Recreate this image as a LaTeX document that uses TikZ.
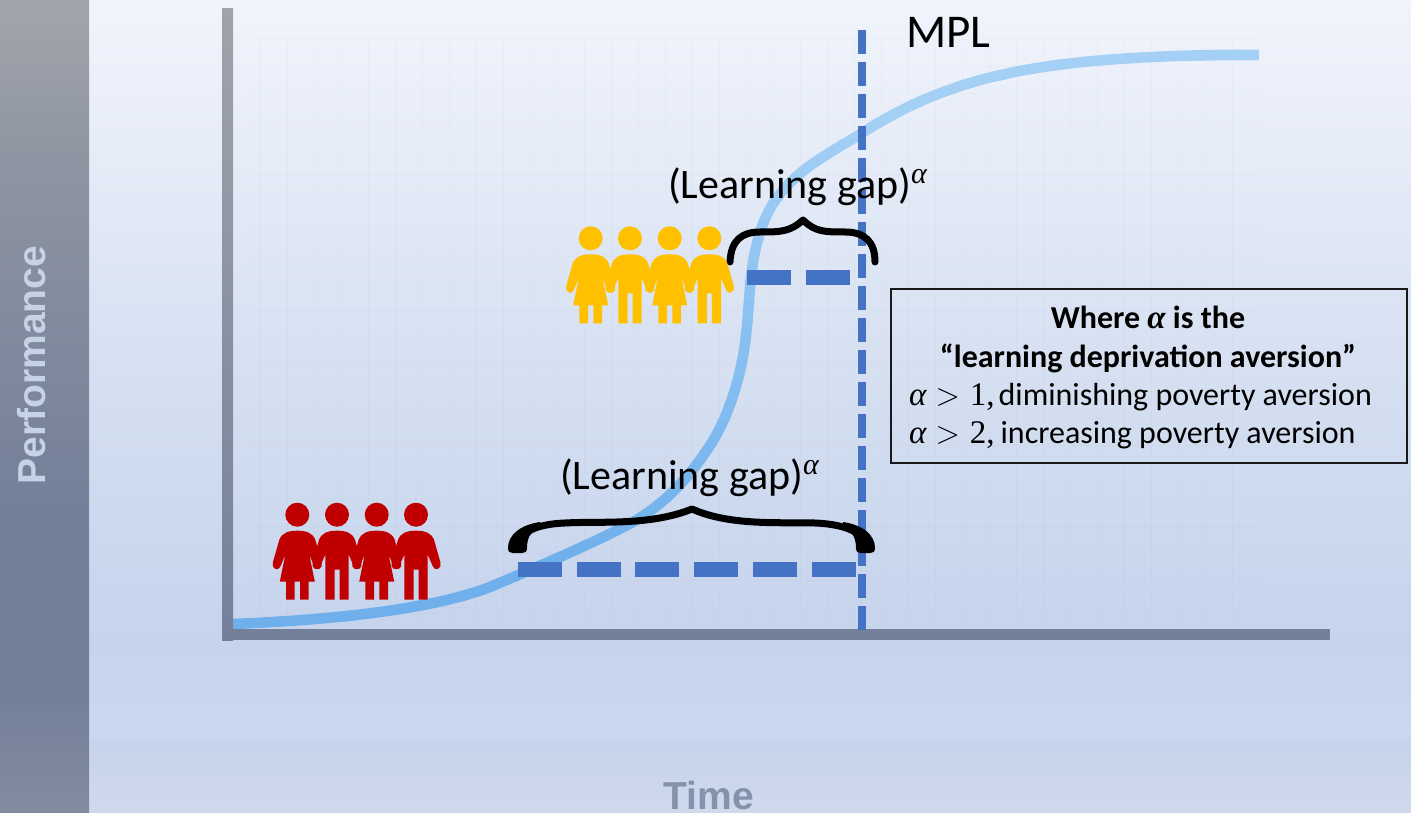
\documentclass[tikz,border=0pt]{standalone}
\usepackage{fix-cm}
\usepackage{fontspec}
\setmainfont{Carlito}
\newfontfamily\mathf{Liberation Serif}
\newfontfamily\helv{Liberation Sans}
\definecolor{bgA}{HTML}{F1F4FC}
\definecolor{bgB}{HTML}{D3DEF0}
\definecolor{bgF}{HTML}{C5D3EC}
\definecolor{bgC}{HTML}{C9D8EF}
\definecolor{bgD}{HTML}{C7D3EB}
\definecolor{bgE}{HTML}{CED9EC}
\definecolor{bandA}{HTML}{A2A5AC}
\definecolor{bandB}{HTML}{8D94A1}
\definecolor{bandC}{HTML}{74809A}
\definecolor{bandD}{HTML}{828C9F}
\definecolor{axA}{HTML}{A0A3AB}
\definecolor{axB}{HTML}{74809A}
\definecolor{curvehi}{HTML}{A4D0F6}
\definecolor{curvelo}{HTML}{6FB0EC}
\definecolor{dashblue}{HTML}{4472C4}
\definecolor{redfig}{HTML}{C00000}
\definecolor{yelfig}{HTML}{FFC000}
\definecolor{perftext}{HTML}{C6D2E6}
\definecolor{timetext}{HTML}{8592AB}
% TikZ maps the path onto the stops from 25bp to 75bp
\pgfdeclareverticalshading{bgshade}{100bp}{color(0bp)=(bgE); color(25bp)=(bgE); color(29.5bp)=(bgD); color(29.8bp)=(bgC); color(35.5bp)=(bgF); color(50bp)=(bgB); color(75bp)=(bgA); color(100bp)=(bgA)}
\pgfdeclareverticalshading{bandshade}{100bp}{color(0bp)=(bandD); color(25bp)=(bandD); color(32bp)=(bandC); color(44bp)=(bandC); color(64.5bp)=(bandB); color(75bp)=(bandA); color(100bp)=(bandA)}
\pgfdeclareverticalshading{axshade}{100bp}{color(0bp)=(axB); color(25bp)=(axB); color(75bp)=(axA); color(100bp)=(axA)}
\newcommand{\curvepath}{(233,624) .. controls (330,620) and (430,610) .. (490,587)
  .. controls (530,570) and (590,545) .. (633,522)
  .. controls (668,502) and (690,475) .. (707,450)
  .. controls (728,420) and (742,375) .. (746,335)
  .. controls (750,300) and (749,275) .. (757,243)
  .. controls (763,220) and (770,205) .. (785,188)
  .. controls (805,165) and (835,150) .. (862,133)
  .. controls (890,115) and (920,100) .. (949,90)
  .. controls (985,77) and (1020,70) .. (1058,65)
  .. controls (1100,59) and (1180,54) .. (1259,55)}
\newcommand{\supalpha}{\raisebox{15pt}{\fontsize{30}{30}\selectfont\mathf\itshape α}}
\newcommand{\malpha}{{\fontsize{33}{38}\selectfont\mathf\itshape α}}
\newcommand{\mnum}[1]{{\fontsize{33}{38}\selectfont\mathf #1,}}
\tikzset{
  curveline/.style={line width=10.5pt},
  mpl/.style={draw=dashblue,line width=8pt,dash pattern=on 24pt off 8pt},
  gapline/.style={draw=dashblue,line width=15pt,dash pattern=on 44pt off 14.7pt},
  brace/.style={draw=black,line cap=round,line join=round},
  label/.style={inner sep=0pt,anchor=base west,font=\fontsize{42}{50}\selectfont},
  boxline/.style={inner sep=0pt,font=\fontsize{32}{38}\selectfont},
  gridline/.style={draw=bgF!60!black,opacity=0.035,line width=1pt},
  pics/girlfig/.style={code={
    \fill[pic actions] (0,0) circle (12);
    \fill[pic actions] (0,16) .. controls (-9,16) and (-15,18) .. (-18,25) -- (-24.5,48)
      .. controls (-26,54) and (-19,57) .. (-17,52) -- (-12,40) -- (-17.5,67) -- (-11.3,67) -- (-11.3,85) -- (-2.7,85) -- (-2.7,67)
      -- (2.7,67) -- (2.7,85) -- (11.3,85) -- (11.3,67) -- (17.5,67) -- (12,40) -- (17,52)
      .. controls (19,57) and (26,54) .. (24.5,48) -- (18,25) .. controls (15,18) and (9,16) .. (0,16) -- cycle;
  }},
  pics/boyfig/.style={code={
    \fill[pic actions] (0,0) circle (12);
    \fill[pic actions] (0,16) .. controls (-9,16) and (-15,18) .. (-18,25) -- (-24.5,48)
      .. controls (-26,54) and (-19,57) .. (-17,52) -- (-11.7,40) -- (-11.7,85) -- (-2.5,85) -- (-2.5,55)
      -- (2.5,55) -- (2.5,85) -- (11.7,85) -- (11.7,40) -- (17,52)
      .. controls (19,57) and (26,54) .. (24.5,48) -- (18,25) .. controls (15,18) and (9,16) .. (0,16) -- cycle;
  }}
}
\begin{document}
\begin{tikzpicture}[x=1pt,y=-1pt]
\useasboundingbox (0,0) rectangle (1411,813);
% background
\shade[shading=bgshade] (0,0) rectangle (1411,813);
\shade[shading=bandshade] (0,0) rectangle (89,813);
% faint grid
\foreach \gx in {260,287,...,1250} \draw[gridline] (\gx,40) -- (\gx,620);
\foreach \gy in {40,67,...,620} \draw[gridline] (255,\gy) -- (1260,\gy);
% curve, colour graded by height
\foreach \by in {40,60,...,620}{
  \pgfmathsetmacro\pc{min(100,max(0,(\by-100)/4.5))}
  \colorlet{bandcol}{curvelo!\pc!curvehi}
  \begin{scope}
    \clip (200,\by) rectangle (1300,\by+21);
    \draw[curveline,draw=bandcol] \curvepath;
  \end{scope}
}
% axes
\shade[shading=axshade] (222,9) rectangle (233,640);
\fill[axB] (222,629) rectangle (1330,640);
% MPL line and gaps
\coordinate (mpltop) at (862,30);
\coordinate (mplbot) at (862,630);
\draw[mpl] (mpltop) -- (mplbot);
\coordinate (redL) at (518,569);
\coordinate (redR) at (856,569);
\draw[gapline] (redL) -- (redR);
\coordinate (yelL) at (747,277);
\coordinate (yelR) at (850,277);
\draw[gapline] (yelL) -- (yelR);
% braces
\draw[brace,line width=7pt] (730,262) .. controls (731,240) and (742,232) .. (760,232)
  .. controls (780,232) and (790,232) .. (803,220)
  .. controls (815,232) and (825,232) .. (845,232)
  .. controls (865,232) and (875,242) .. (875,262);
\draw[brace,line width=7pt] (520,540) .. controls (525,530) and (540,524) .. (565,523)
  .. controls (600,521) and (650,526) .. (692,509)
  .. controls (730,526) and (780,522) .. (815,523)
  .. controls (840,524) and (858,530) .. (863,540);
\fill[black] (508,548) .. controls (508,535) and (520,525) .. (540,522) -- (540,529)
  .. controls (533,530) and (527,535) .. (527,548) .. controls (527,552) and (525,553) .. (522,553)
  -- (513,553) .. controls (510,553) and (508,552) .. (508,548) -- cycle;
\fill[black] (875,548) .. controls (875,535) and (863,525) .. (843,522) -- (843,529)
  .. controls (850,530) and (856,535) .. (856,548) .. controls (856,552) and (858,553) .. (861,553)
  -- (870,553) .. controls (873,553) and (875,552) .. (875,548) -- cycle;
% people
\pic[fill=redfig] at (297.3,514.7) {girlfig};
\pic[fill=redfig] at (337,514.7) {boyfig};
\pic[fill=redfig] at (376.7,514.7) {girlfig};
\pic[fill=redfig] at (416,514.7) {boyfig};
\pic[fill=yelfig] at (590.7,238.3) {girlfig};
\pic[fill=yelfig] at (630,238.3) {boyfig};
\pic[fill=yelfig] at (669.7,238.3) {girlfig};
\pic[fill=yelfig] at (709.3,238.3) {boyfig};
% labels
\node[inner sep=0pt,anchor=base west,font=\fontsize{47}{50}\selectfont] (mpllabel) at (906,48) {MPL};
\node[label] (gapupper) at (668,199) {(Learning gap)\supalpha};
\node[label] (gaplower) at (560,489) {(Learning gap)\supalpha};
% definition box
\node[draw=black!90,line width=1.6pt,minimum width=516pt,minimum height=174pt,inner sep=0pt,anchor=north west] (defbox) at (890,288) {};
\node[boxline,anchor=base] (l1) at (1148,328) {\bfseries Where \malpha\ is the};
\node[boxline,anchor=base] (l2) at (1148,367) {\bfseries “learning deprivation aversion”};
\node[boxline,anchor=base west] (l3) at (909,405) {\malpha\kern9pt$>$\kern10pt\mnum{1}\kern4pt diminishing poverty aversion};
\node[boxline,anchor=base west] (l4) at (909,443) {\malpha\kern9pt$>$\kern10pt\mnum{2}\kern6pt increasing poverty aversion};
% axis titles
\node[inner sep=0pt,anchor=base,rotate=90,text=perftext,font=\helv\bfseries\fontsize{39}{40}\selectfont] (ylabel) at (45,365) {Performance};
\node[inner sep=0pt,anchor=base,text=timetext,font=\helv\bfseries\fontsize{39}{40}\selectfont] (xlabel) at (709,809) {Time};
\end{tikzpicture}
\end{document}
